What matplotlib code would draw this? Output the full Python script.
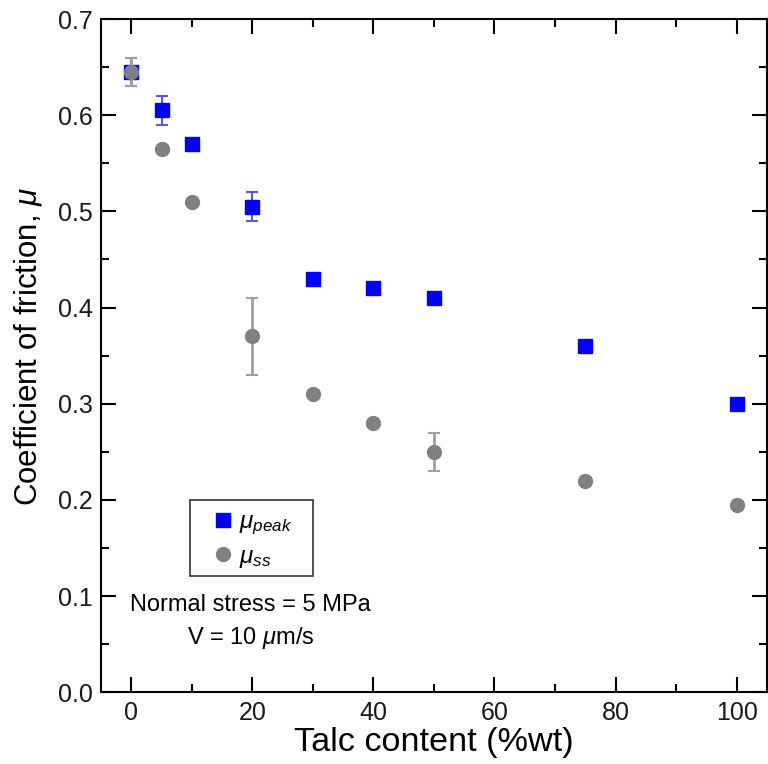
import matplotlib
matplotlib.use("Agg")
import matplotlib.pyplot as plt
from matplotlib.lines import Line2D
from matplotlib.patches import Rectangle
from matplotlib.ticker import MultipleLocator

plt.rcParams["font.family"] = ["Liberation Sans", "DejaVu Sans"]
plt.rcParams["mathtext.fontset"] = "custom"
plt.rcParams["mathtext.rm"] = "Liberation Sans"
plt.rcParams["mathtext.it"] = "Liberation Sans:italic"

# Friction data vs talc content
talc = [0, 5, 10, 20, 30, 40, 50, 75, 100]
mu_peak = [0.645, 0.605, 0.57, 0.505, 0.43, 0.42, 0.41, 0.36, 0.30]
mu_peak_err = [0.015, 0.015, 0, 0.015, 0, 0, 0, 0, 0]
mu_ss = [0.645, 0.565, 0.51, 0.37, 0.31, 0.28, 0.25, 0.22, 0.195]
mu_ss_err = [0.015, 0, 0, 0.04, 0, 0, 0.02, 0, 0]

PEAK_C = "#0000ff"
SS_C = "#808080"

fig = plt.figure(figsize=(7.68, 7.64), dpi=100)
ax = fig.add_axes([0.1315, 0.094, 0.867, 0.881])

ax.errorbar(talc, mu_peak, yerr=mu_peak_err, fmt="s", color=PEAK_C,
            ms=10, ecolor="#5a5ad8", elinewidth=1.5, capsize=4, capthick=1.5,
            zorder=3)
ax.errorbar(talc, mu_ss, yerr=mu_ss_err, fmt="o", color=SS_C,
            ms=10, ecolor="#a0a0a0", elinewidth=2, capsize=4, capthick=1.5,
            zorder=4)

ax.set_xlim(-5, 105)
ax.set_ylim(0, 0.7)
ax.xaxis.set_major_locator(MultipleLocator(20))
ax.xaxis.set_minor_locator(MultipleLocator(10))
ax.yaxis.set_major_locator(MultipleLocator(0.1))
ax.yaxis.set_minor_locator(MultipleLocator(0.05))
ax.yaxis.set_major_formatter(plt.FuncFormatter(lambda v, _: f"{v:.1f}"))

ax.tick_params(which="both", direction="in", top=True, right=True,
               labelsize=18, width=1.5, pad=6, labelcolor="#1a1a1a")
ax.tick_params(which="major", length=11)
ax.tick_params(which="minor", length=6)
for s in ax.spines.values():
    s.set_linewidth(1.5)

ax.set_xlabel("Talc content (%wt)", fontsize=24.7, labelpad=2)
ax.set_ylabel(r"Coefficient of friction, $\mu$", fontsize=22.5, labelpad=10)
ax.yaxis.label.set_y(0.514)

# legend: entries without frame, box drawn separately so it can be sized freely
handles = [
    Line2D([], [], ls="none", marker="s", ms=10, color=PEAK_C),
    Line2D([], [], ls="none", marker="o", ms=10, color=SS_C),
]
leg = ax.legend(handles, [r"$\mu_{peak}$", r"$\mu_{ss}$"], loc="center left",
                bbox_to_anchor=(0.1652, 0.2255), borderaxespad=0, borderpad=0,
                fontsize=17.5, frameon=False, handlelength=1.0,
                handletextpad=0.15, labelspacing=0.35)
ax.add_patch(Rectangle((0.1336, 0.1724), 0.1847, 0.1129, transform=ax.transAxes,
                       fill=False, edgecolor="#333333", lw=1.2, zorder=5))

ax.text(0.225, 0.129, "Normal stress = 5 MPa", transform=ax.transAxes,
        ha="center", va="center", fontsize=17)
ax.text(0.225, 0.081, r"V = 10 $\mu$m/s", transform=ax.transAxes,
        ha="center", va="center", fontsize=17)

fig.savefig("out.png", dpi=100)
